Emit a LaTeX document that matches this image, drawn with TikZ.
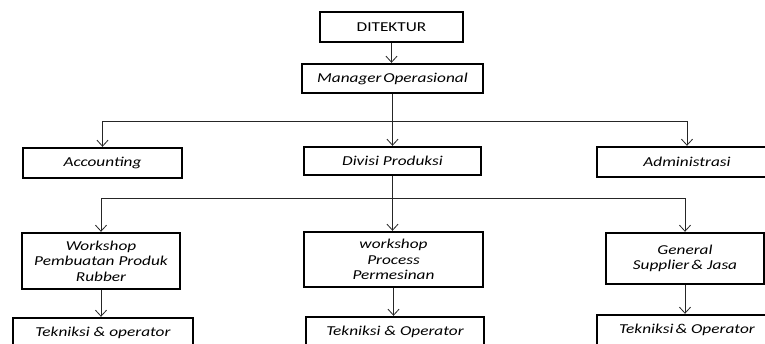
\documentclass[tikz,border=0pt]{standalone}
\usepackage{fontspec}
\setmainfont{Carlito}[FakeStretch=1.27]
\usetikzlibrary{arrows.meta}
\begin{document}
\begin{tikzpicture}[x=1pt,y=-1pt,
  box/.style={draw, line width=2.4pt, inner sep=0pt, align=center,
    font=\fontsize{13.6}{15.5}\selectfont\itshape},
  conn/.style={line width=0.8pt, draw=black!85},
  arr/.style={conn, -{Straight Barb[length=6pt,width=11pt,line width=0.8pt]}}]
\useasboundingbox (0,0) rectangle (765,344);
\clip (0,0) rectangle (765,344);
\fill[white] (0,0) rectangle (765,344);

\node[box, minimum width=143pt, minimum height=30pt,
  font=\fontsize{13.6}{15.5}\selectfont\upshape] (dir) at (391.5,27) {DITEKTUR};
\node[box, minimum width=181pt, minimum height=29pt] (mgr) at (392.5,78.5) {Manager\hspace{0.12em}Operasional};

\node[box, minimum width=159pt, minimum height=30pt] (acc) at (102.5,163) {Accounting};
\node[box, minimum width=177pt, minimum height=28pt] (div) at (392.5,161) {Divisi Produksi};
\node[box, minimum width=180pt, minimum height=30pt] (adm) at (687,162) {Administrasi};

\node[box, minimum width=158pt, minimum height=56pt] (ws1) at (101,261) {Workshop\\Pembuatan Produk\\Rubber};
\node[box, minimum width=179pt, minimum height=55pt] (ws2) at (393.5,259.5) {workshop\\Process\\Permesinan};
\node[box, minimum width=158pt, minimum height=51pt] (ws3) at (685,258.5) {General\\Supplier\hspace{0.15em}\& Jasa};

\node[box, minimum width=180pt, minimum height=30pt] (t1) at (103,333) {Tekniksi \& operator};
\node[box, minimum width=178pt, minimum height=30pt] (t2) at (395,332) {Tekniksi \& Operator};
\node[box, minimum width=180pt, minimum height=30pt] (t3) at (687,330) {Tekniksi\hspace{0.15em}\& Operator};

\draw[arr] (dir.south) -- (dir.south |- mgr.north);
\draw[arr] (mgr.south) -- (mgr.south |- div.north);
\coordinate (j1) at (mgr.south |- 0,121);
\draw[arr] (j1) -| (acc.north);
\draw[arr] (j1) -| (adm.north);

\draw[arr] (div.south) -- (div.south |- ws2.north);
\coordinate (j2) at (div.south |- 0,198);
\draw[arr] (j2) -| (ws1.north);
\draw[arr] (j2) -| (ws3.north);

\draw[arr] (ws1.south) -- (ws1.south |- t1.north);
\draw[arr] (ws2.south) -- (ws2.south |- t2.north);
\draw[arr] (ws3.south) -- (ws3.south |- t3.north);
\end{tikzpicture}
\end{document}
